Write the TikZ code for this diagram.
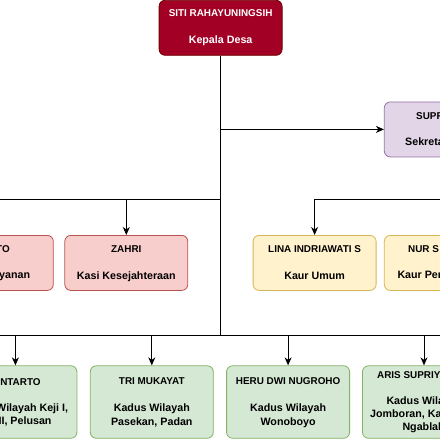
\documentclass[tikz,border=0pt]{standalone}
\usepackage{fontspec}
\setmainfont{Liberation Sans}
\usetikzlibrary{arrows.meta}
\definecolor{topfill}{HTML}{A20025}
\definecolor{topline}{HTML}{6F0000}
\definecolor{redfill}{HTML}{F8CECC}
\definecolor{redline}{HTML}{B85450}
\definecolor{yelfill}{HTML}{FFF2CC}
\definecolor{yelline}{HTML}{D6B656}
\definecolor{purfill}{HTML}{E1D5E7}
\definecolor{purline}{HTML}{9673A6}
\definecolor{grnfill}{HTML}{D5E8D4}
\definecolor{grnline}{HTML}{82B366}
\newcommand\pname{\bfseries\fontsize{9.9}{13}\selectfont}
\newcommand\prole{\bfseries\fontsize{10.7}{13}\selectfont}
\tikzset{
  orgbox/.style={rectangle, rounded corners=6pt, line width=0.8pt, minimum width=123pt,
    minimum height=55pt, inner sep=0pt, align=center, text=black},
  topbox/.style={orgbox, fill=topfill, draw=topline, text=white},
  redbox/.style={orgbox, fill=redfill, draw=redline},
  yelbox/.style={orgbox, fill=yelfill, draw=yelline},
  purbox/.style={orgbox, fill=purfill, draw=purline},
  grnbox/.style={orgbox, fill=grnfill, draw=grnline, minimum height=72.5pt},
  frag/.style={inner sep=0pt, text=black},
  link/.style={draw=black, line width=0.9pt},
  trunkline/.style={draw=black, line width=1.5pt},
  arr/.style={link, -{Stealth[length=8pt,width=7pt,inset=2.5pt]}},
}
\begin{document}
\begin{tikzpicture}[x=1pt,y=-1pt]
\useasboundingbox (0,0) rectangle (440,440);
\clip (0,0) rectangle (440,440);
\fill[white] (0,0) rectangle (440,440);
% coordinates
\coordinate (busL) at (-5,335.7);
\coordinate (busR) at (445,335.7);
\coordinate (barL) at (-5,199.3);
\coordinate (barR) at (445,199.3);
% boxes
\node[topbox] (kd) at (220.6,27.8) {\pname SITI RAHAYUNINGSIH\strut\\[13pt]\prole Kepala Desa\strut};
\node[purbox] (sek) at (445.8,129.4) {};
\node[redbox] (pel) at (-8.2,262.9) {};
\node[redbox] (zahri) at (126.3,262.9) {\pname ZAHRI\strut\\[13pt]\prole Kasi Kesejahteraan\strut};
\node[yelbox] (lina) at (314.6,262.9) {\pname LINA INDRIAWATI S\strut\\[13pt]\prole Kaur Umum\strut};
\node[yelbox] (nur) at (445.8,262.9) {};
\node[grnbox] (g1) at (15.4,402) {};
\node[grnbox] (g2) at (151.8,402) {\pname TRI MUKAYAT\strut\\[13pt]\prole Kadus Wilayah\strut\\\prole Pasekan, Padan\strut};
\node[grnbox] (g3) at (288.1,402) {\pname HERU DWI NUGROHO\strut\\[13pt]\prole Kadus Wilayah\strut\\\prole Wonoboyo\strut};
\node[grnbox] (g4) at (424.0,402) {};
% text fragments of boxes cut by the border
\node[frag, anchor=base west] (sekn) at (416,119.1) {\pname SUPR};
\node[frag, anchor=base west] (sekr) at (405,145.1) {\prole Sekreta};
\node[frag, anchor=base east] (peln) at (10,252.5) {\pname TO};
\node[frag, anchor=base east] (pelr) at (30.3,278.5) {\prole yanan};
\node[frag, anchor=base west] (nurn) at (408,252.5) {\pname NUR S};
\node[frag, anchor=base west] (nurr) at (397.3,278.5) {\prole Kaur Per};
\node[frag, anchor=base east] (g1n) at (40.8,385.1) {\pname NTARTO};
\node[frag, anchor=base east] (g1a) at (68.3,411.1) {\prole Wilayah Keji I,};
\node[frag, anchor=base east] (g1b) at (51.7,424.1) {\prole II, Pelusan};
\node[frag, anchor=base west] (g4n) at (377,378.6) {\pname ARIS SUPRIY};
\node[frag, anchor=base west] (g4a) at (386.3,404.6) {\prole Kadus Wila};
\node[frag, anchor=base west] (g4b) at (370,417.6) {\prole Jomboran, Ka};
\node[frag, anchor=base west] (g4c) at (402.3,430.6) {\prole Ngablak};
% connectors
\draw[link] (busL) -- (busR);
\draw[link] (kd.south |- barL) -- (barL);
\draw[arr] (zahri.north |- barL) -- (zahri.north);
\draw[arr] (barR) -| (lina.north);
\draw[arr] (kd.south |- sek.west) -- (sek.west);
\foreach \g in {g1,g2,g3,g4} {\draw[arr] (\g.north |- busL) -- (\g.north);}
\draw[trunkline] (kd.south) -- (kd.south |- busL);
\end{tikzpicture}
\end{document}
